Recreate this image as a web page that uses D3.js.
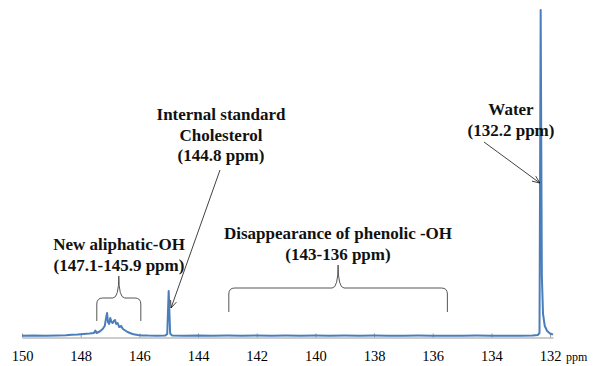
<!DOCTYPE html>
<html>
<head>
<meta charset="utf-8">
<script src="https://cdn.jsdelivr.net/npm/d3@7"></script>
<style>
  html, body { margin: 0; padding: 0; background: #fff; }
  svg { display: block; }
</style>
</head>
<body>
<div class="display"></div>
<script>
// chemical shift (ppm) of each sampled point, high to low
const shifts = [
  150.0, 149.6, 149.2, 148.8, 148.5, 148.3, 148.1, 147.9, 147.7, 147.55,
  147.5, 147.46, 147.35, 147.25, 147.18, 147.14, 147.1, 147.07, 147.03, 146.99,
  146.95, 146.91, 146.87, 146.83, 146.79, 146.74, 146.69, 146.62, 146.56, 146.48,
  146.4, 146.3, 146.2, 146.05, 145.9, 145.7, 145.4, 145.12, 145.05, 145.0,
  144.95, 144.88, 144.5, 144.0, 143.5, 143.0, 142.5, 142.0, 141.5, 141.0,
  140.5, 140.0, 139.5, 139.0, 138.5, 138.0, 137.5, 137.0, 136.5, 136.0,
  135.5, 135.0, 134.5, 134.0, 133.5, 133.0, 132.6, 132.42, 132.36, 132.32,
  132.28, 132.24, 132.18, 132.1, 132.0, 131.9
];

// signal intensity (arbitrary units) at each shift
const intensity = [
  0.3, 0.5, 0.3, 0.6, 0.8, 1.2, 1.5, 2, 2.5, 3,
  5.5, 3, 4.5, 7, 10, 17, 23, 14, 12, 18,
  14, 13, 15, 16, 12, 13, 9, 10, 7, 5.5,
  4, 2.8, 1.8, 1, 0.6, 0.4, 0.3, 0.4, 2, 45,
  2.5, 0.4, 0.3, 0.5, 0.2, 0.4, 0.3, 0.5, 0.2, 0.4,
  0.3, 0.4, 0.2, 0.4, 0.3, 0.4, 0.2, 0.3, 0.4, 0.3,
  0.2, 0.3, 0.4, 0.3, 0.2, 0.3, 0.4, 1, 3, 326,
  60, 22, 10, 5, 2.5, 1.5
];

// labelled ticks on the ppm axis
const tickLabels = [150, 148, 146, 144, 142, 140, 138, 136, 134, 132];

// annotation texts
const cholesterolLines = ["Internal standard", "Cholesterol", "(144.8 ppm)"];
const waterLines = ["Water", "(132.2 ppm)"];
const aliphaticLines = ["New aliphatic-OH", "(147.1-145.9 ppm)"];
const phenolicLines = ["Disappearance of phenolic -OH", "(143-136 ppm)"];

// bracketed ranges (ppm)
const aliphaticRange = [147.45, 145.95];
const phenolicRange = [142.95, 135.5];

const serif = "Liberation Serif";
const width = 595;
const height = 366;

const svg = d3.select(".display")
  .append("svg")
  .attr("width", width)
  .attr("height", height);

//scales, ppm axis runs right to left
const xScale = d3.scaleLinear()
  .domain([150, 131.9])
  .range([22, 553]);

const yScale = d3.scaleLinear()
  .domain([0, 326])
  .range([336, 10]);

//x axis with small ticks pointing up
const xAxis = d3.axisBottom(xScale)
  .tickValues(tickLabels)
  .tickFormat(d3.format("d"))
  .tickSizeInner(-4)
  .tickSizeOuter(0)
  .tickPadding(13);

const xAxisGroup = svg.append("g")
  .attr("transform", "translate(0,337.5)")
  .call(xAxis)
  .attr("font-family", null)
  .attr("font-size", null);

xAxisGroup.select(".domain").attr("stroke", "#9a9a9a");
xAxisGroup.selectAll(".tick line").attr("stroke", "#9a9a9a");
xAxisGroup.selectAll(".tick text")
  .attr("fill", "#000")
  .attr("font-family", serif)
  .attr("font-size", 14.5)
  .style("font-family", serif);

svg.append("text")
  .attr("x", 566)
  .attr("y", 361)
  .attr("font-family", serif)
  .style("font-family", serif)
  .attr("font-size", 12)
  .text("ppm");

//spectrum trace
const points = shifts.map((s, i) => [s, intensity[i]]);
const line = d3.line()
  .x(d => xScale(d[0]))
  .y(d => yScale(d[1]));

svg.append("path")
  .datum(points)
  .attr("d", line)
  .attr("fill", "none")
  .attr("stroke", "#4a7ebb")
  .attr("stroke-width", 2)
  .attr("stroke-linejoin", "round");

//curly brace over a ppm range
function brace(range, top, tip, bottom) {
  const x0 = xScale(range[0]);
  const x1 = xScale(range[1]);
  const xc = (x0 + x1) / 2;
  const r = 6;
  const p = d3.path();
  p.moveTo(x0, bottom);
  p.lineTo(x0, top + r);
  p.quadraticCurveTo(x0, top, x0 + r, top);
  p.lineTo(xc - r, top);
  p.quadraticCurveTo(xc, top, xc, tip);
  p.quadraticCurveTo(xc, top, xc + r, top);
  p.lineTo(x1 - r, top);
  p.quadraticCurveTo(x1, top, x1, top + r);
  p.lineTo(x1, bottom);
  svg.append("path")
    .attr("d", p.toString())
    .attr("fill", "none")
    .attr("stroke", "#555")
    .attr("stroke-width", 1);
}

brace(aliphaticRange, 298, 276, 321);
brace(phenolicRange, 288, 265, 312);

//bold labels, one text element per line
function label(lines, x, y) {
  lines.forEach((d, i) => {
    svg.append("text")
      .attr("x", x)
      .attr("y", y + i * 20.5)
      .attr("text-anchor", "middle")
      .attr("font-family", serif)
      .style("font-family", serif)
      .attr("font-size", 17)
      .attr("font-weight", "bold")
      .attr("fill", "#111")
      .text(d);
  });
}

label(cholesterolLines, 221, 120);
label(waterLines, 511, 115);
label(aliphaticLines, 119, 250);
label(phenolicLines, 338, 239);

//pointer arrows with an open head drawn as a path
function arrow(x1, y1, x2, y2) {
  const a = Math.atan2(y2 - y1, x2 - x1);
  const len = 8;
  const spread = 0.4;
  const head = d3.path();
  head.moveTo(x2 - len * Math.cos(a - spread), y2 - len * Math.sin(a - spread));
  head.lineTo(x2, y2);
  head.lineTo(x2 - len * Math.cos(a + spread), y2 - len * Math.sin(a + spread));
  svg.append("line")
    .attr("x1", x1)
    .attr("y1", y1)
    .attr("x2", x2)
    .attr("y2", y2)
    .attr("stroke", "#111")
    .attr("stroke-width", 0.8);
  svg.append("path")
    .attr("d", head.toString())
    .attr("fill", "none")
    .attr("stroke", "#111")
    .attr("stroke-width", 0.8);
}

arrow(220, 170, xScale(144.92), 308);
arrow(484, 142, xScale(132.35), 183);
</script>
</body>
</html>
